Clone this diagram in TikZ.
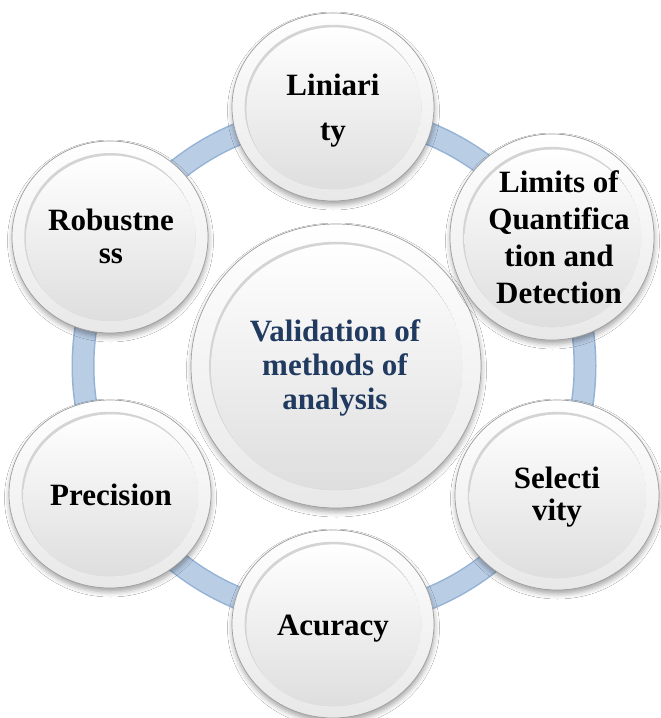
\documentclass[tikz,border=0pt]{standalone}
\usepackage{fontspec}
\setmainfont{Liberation Serif}
\usetikzlibrary{shadows.blur}
\definecolor{ringfill}{RGB}{185,205,229}
\definecolor{ringedge}{RGB}{149,179,215}
\definecolor{hubtext}{RGB}{33,58,96}

\tikzset{
  % labels are placed by the baseline of their last line
  lbl/.style={anchor=base, align=center, inner sep=0pt, text=black,
              font=\bfseries\fontsize{31}{#1}\selectfont},
  lbl/.default=35,
  hublbl/.style={lbl=#1, text=hubtext},
  rim/.style={top color=white, bottom color=black!9, draw=black!38, line width=0.7pt,
              blur shadow={shadow xshift=0.5pt, shadow yshift=-4pt,
                           shadow blur radius=5pt, shadow opacity=35}},
  sunk/.style={fill=black!17},
  face/.style={top color=white, bottom color=black!13},
}

% one glossy bubble: name, x, y, x radius, y radius
\newcommand\glossybubble[5]{%
  \coordinate (#1) at (#2,#3);
  \path[rim] (#1) ellipse [x radius=#4pt, y radius=#5pt];
  \begin{scope}
    \clip (#1) ellipse [x radius=0.875*#4pt, y radius=0.875*#5pt];
    \fill[sunk] (#1) ellipse [x radius=0.875*#4pt, y radius=0.875*#5pt];
    \shade[face] ([shift={(1.2,2)}]#1) ellipse [x radius=0.875*#4pt-0.6pt, y radius=0.875*#5pt-0.6pt];
  \end{scope}
}

\begin{document}
\begin{tikzpicture}[x=1pt, y=-1pt]
  \useasboundingbox[fill=white] (0,0) rectangle (661,718);

  % blue ring linking the outer bubbles
  \coordinate (ringc) at (334,366);
  \draw[ringedge, line width=23pt] (ringc) circle [radius=251pt];
  \draw[ringfill, line width=20pt] (ringc) circle [radius=251pt];

  % bubbles
  \glossybubble{hub}{336}{366}{145}{142}
  \glossybubble{lin}{333}{107}{101}{94}
  \glossybubble{lim}{552}{237}{102}{103}
  \glossybubble{sel}{557}{495}{102}{95}
  \glossybubble{acu}{333}{624}{101}{94}
  \glossybubble{pre}{110}{494}{101}{94}
  \glossybubble{rob}{110}{237}{98}{96}

  % labels
  \node[hublbl=34] (t-hub) at (335,409) {Validation of\\methods of\\analysis};
  \node[lbl=45] (t-lin) at (333,140) {Liniari\\ty};
  \node[lbl=37] (t-lim) at (559,303) {Limits of\\Quantifica\\tion and\\Detection};
  \node[lbl=32] (t-sel) at (557,520) {Selecti\\vity};
  \node[lbl] (t-acu) at (333,635) {Acuracy};
  \node[lbl] (t-pre) at (111,505) {Precision};
  \node[lbl=33] (t-rob) at (111,263) {Robustne\\ss};
\end{tikzpicture}
\end{document}
